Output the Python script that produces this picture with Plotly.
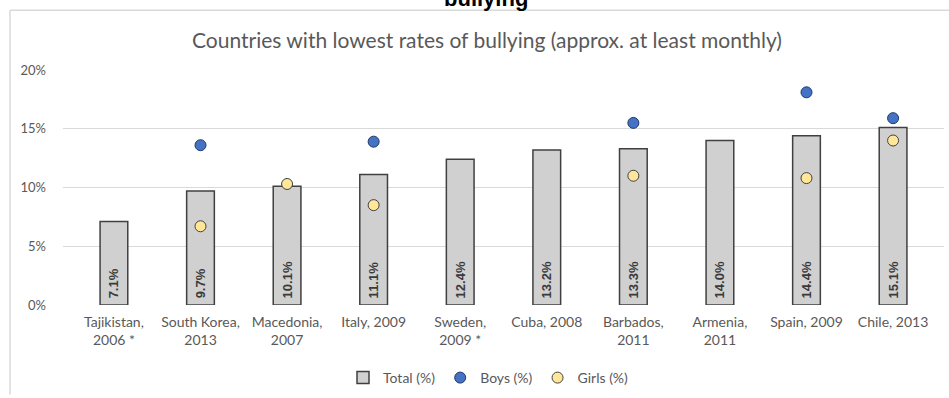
import plotly.graph_objects as go

categories = ["Tajikistan,<br>2006 *", "South Korea,<br>2013", "Macedonia,<br>2007", "Italy, 2009",
              "Sweden,<br>2009 *", "Cuba, 2008", "Barbados,<br>2011", "Armenia,<br>2011",
              "Spain, 2009", "Chile, 2013"]
total = [7.1, 9.7, 10.1, 11.1, 12.4, 13.2, 13.3, 14.0, 14.4, 15.1]
boys = [None, 13.6, None, 13.9, None, None, 15.5, None, 18.1, 15.9]
girls = [None, 6.7, 10.3, 8.5, None, None, 11.0, None, 10.8, 14.0]
y_ticks = [0, 5, 10, 15, 20]
y_tick_labels = ["0%", "5%", "10%", "15%", "20%"]

W, H = 949, 398
L, R, T, B = 63, 5, 70, 92
pw, ph = W - L - R, H - T - B

def px_x(x):
    return (x - L) / pw

def px_y(y):
    return (H - B - y) / ph

GRAY = "#595959"
FONT = "Lato"

fig = go.Figure()
fig.add_trace(go.Bar(
    x=categories, y=total, name="Total (%)",
    marker=dict(color="#D0D0D0", line=dict(color="#404040", width=1.5)),
    width=0.32,
    text=["\u00a0<b>" + f"{v:.1f}%" + "</b>" for v in total],
    textposition="inside", insidetextanchor="start", textangle=-90,
    textfont=dict(family="Liberation Sans", size=13, color="#3A3A3A"),
    hoverinfo="x+y",
))
fig.add_trace(go.Scatter(
    x=categories, y=boys, name="Boys (%)", mode="markers",
    marker=dict(color="#4472C4", size=11, line=dict(color="#1F3864", width=1)),
))
fig.add_trace(go.Scatter(
    x=categories, y=girls, name="Girls (%)", mode="markers",
    marker=dict(color="#FFE699", size=11, line=dict(color="#404040", width=1)),
))

fig.update_layout(
    width=W, height=H,
    margin=dict(l=L, r=R, t=T, b=B),
    paper_bgcolor="white", plot_bgcolor="white",
    font=dict(family=FONT, color=GRAY),
    title=dict(text="Countries with lowest rates of bullying (approx. at least monthly)",
               x=487 / W, xref="container", xanchor="center",
               y=1 - 41 / H, yref="container", yanchor="middle",
               font=dict(family=FONT, size=21, color=GRAY, weight="normal")),
    showlegend=True,
    legend=dict(orientation="h", x=0.5 - 15 / pw, xanchor="center", y=px_y(378), yanchor="middle",
                font=dict(family=FONT, size=14, color=GRAY), itemwidth=30,
                traceorder="normal"),
    xaxis=dict(showgrid=False, showline=False, ticks="", tickfont=dict(family=FONT, size=14, color=GRAY),
               ticklabelstandoff=7, fixedrange=True),
    yaxis=dict(range=[0, 20], tickvals=y_ticks, ticktext=y_tick_labels, showgrid=True,
               gridcolor="#D9D9D9", gridwidth=1, zeroline=False, showline=False, ticks="",
               tickfont=dict(family=FONT, size=13, color=GRAY), ticklabelstandoff=16,
               fixedrange=True),
    bargap=0.68,
    shapes=[
        dict(type="line", xref="paper", yref="paper", x0=px_x(10), x1=px_x(W + 5), y0=px_y(10), y1=px_y(10),
             line=dict(color="#D9D9D9", width=1.5)),
        dict(type="line", xref="paper", yref="paper", x0=px_x(10), x1=px_x(10), y0=px_y(10), y1=px_y(396),
             line=dict(color="#D9D9D9", width=1.5)),
    ],
    annotations=[
        dict(text="<b>bullying</b>", xref="paper", yref="paper", x=px_x(486), y=px_y(-2),
             xanchor="center", yanchor="middle", showarrow=False,
             font=dict(family="Liberation Sans", size=22, color="black")),
    ],
)

fig.write_html("out.html")
